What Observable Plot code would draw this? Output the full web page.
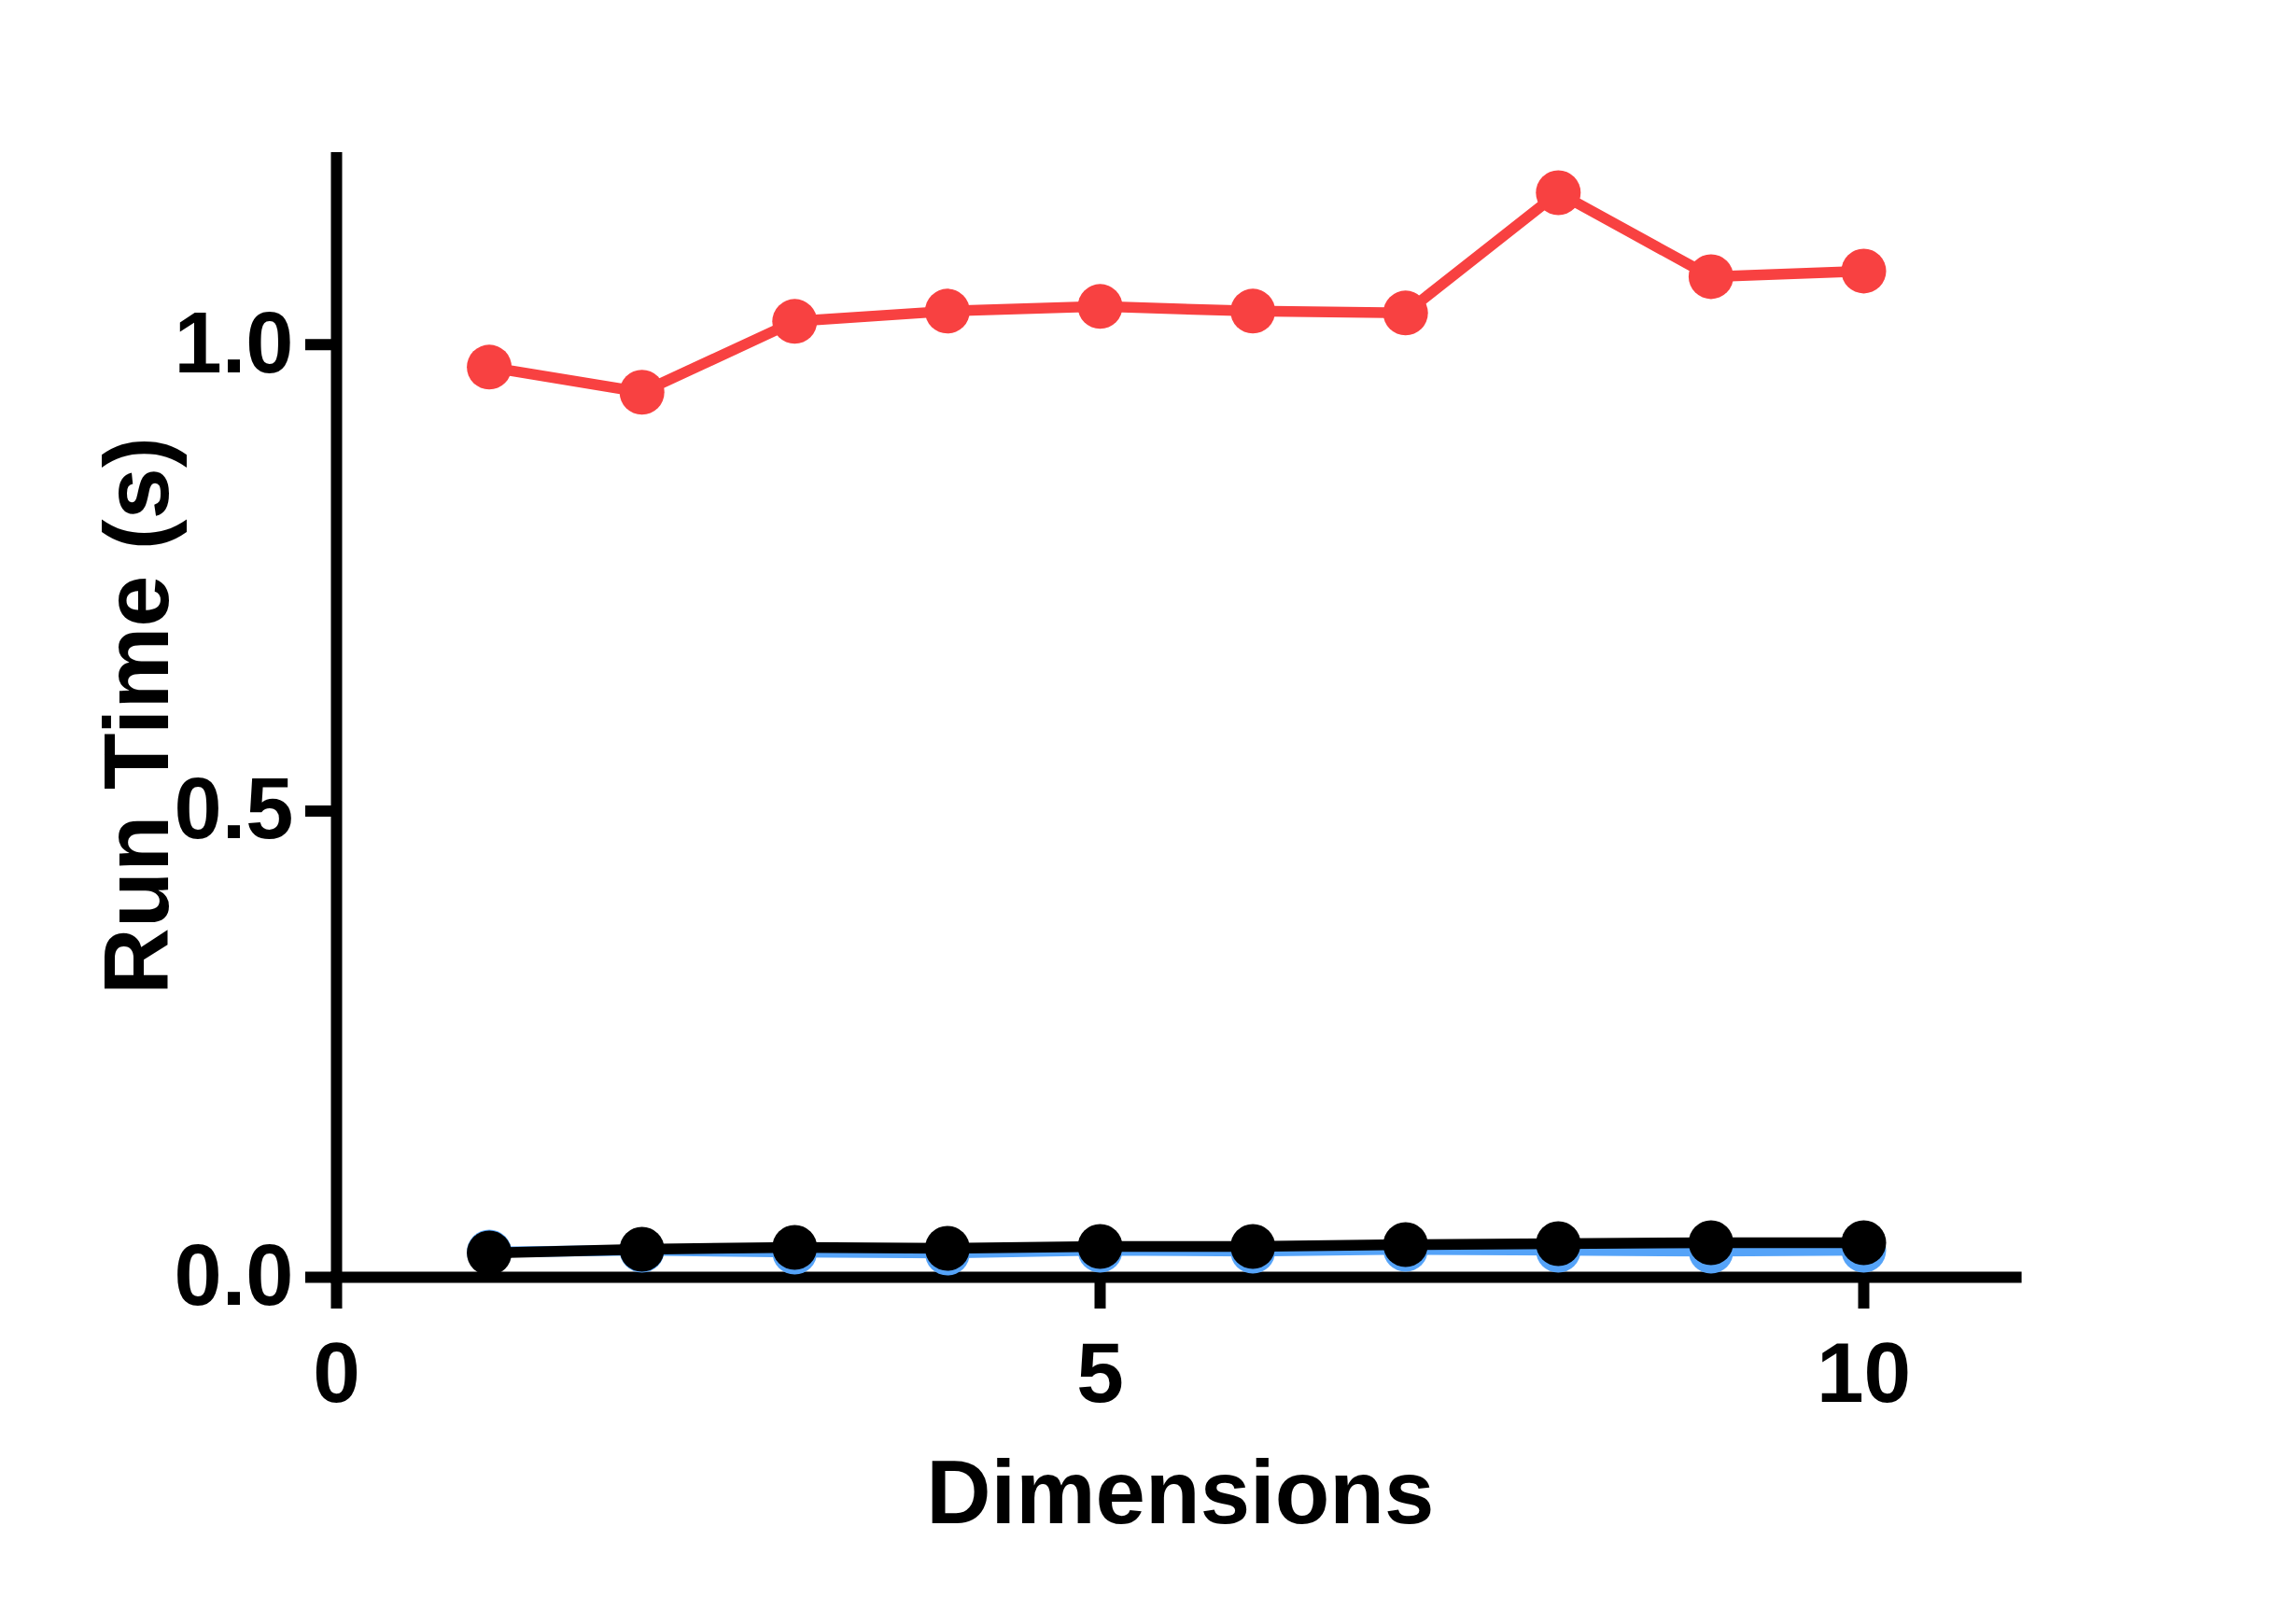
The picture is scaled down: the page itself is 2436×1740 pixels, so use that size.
<!DOCTYPE html>
<html>
<head>
<meta charset="utf-8">
<script src="https://cdn.jsdelivr.net/npm/d3@7"></script>
<script src="https://cdn.jsdelivr.net/npm/@observablehq/plot@0.6"></script>
<style>
  html, body { margin: 0; padding: 0; background: #fff; }
  svg text { font-family: "Liberation Sans", Arial, Helvetica, sans-serif; font-weight: bold; }
</style>
</head>
<body>
<div id="chart"></div>
<script>
// ---- data ----
const dimensions = [1, 2, 3, 4, 5, 6, 7, 8, 9, 10];
const redSeries   = [0.976, 0.949, 1.025, 1.036, 1.041, 1.036, 1.034, 1.163, 1.073, 1.079];
const blueSeries  = [0.027, 0.029, 0.027, 0.026, 0.029, 0.028, 0.030, 0.029, 0.028, 0.029];
const blackSeries = [0.026, 0.030, 0.032, 0.031, 0.033, 0.033, 0.035, 0.036, 0.037, 0.037];
const xTicks = [0, 5, 10];
const yTicks = [0, 0.5, 1.0];
const xDomain = [0, 11];
const yDomain = [0, 1.2];
const xTitle = "Dimensions";
const yTitle = "Run Time (s)";

const colors = { red: "#F84141", blue: "#55A3F8", black: "#000000" };

const rows = (vals, name) => dimensions.map((d, i) => ({ dim: d, value: vals[i], series: name }));
const redRows = rows(redSeries, "red");
const blueRows = rows(blueSeries, "blue");
const blackRows = rows(blackSeries, "black");

const LW = 11.5, R = 24;

const chart = Plot.plot({
  width: 2436,
  height: 1740,
  marginLeft: 360,
  marginRight: 276.4,
  marginTop: 169,
  marginBottom: 372,
  style: { fontFamily: "Liberation Sans, Arial, sans-serif", fontWeight: "bold", background: "#fff" },
  x: { domain: xDomain },
  y: { domain: yDomain },
  marks: [
    // axis lines
    Plot.ruleY([0], { x1: xDomain[0], x2: xDomain[1], stroke: "#000", strokeWidth: 12, strokeLinecap: "square" }),
    Plot.ruleX([0], { y1: yDomain[0], y2: yDomain[1], stroke: "#000", strokeWidth: 12, strokeLinecap: "square" }),
    Plot.axisX({ ticks: xTicks, tickSize: 34, tickPadding: 35, strokeWidth: 12, fontSize: 91, fontWeight: "bold", label: null, tickFormat: d => String(d), stroke: "#000", fill: "#000" }),
    Plot.axisY({ ticks: yTicks, tickSize: 33, tickPadding: 13, strokeWidth: 12, fontSize: 92, fontWeight: "bold", label: null, tickFormat: d => d.toFixed(1), stroke: "#000", fill: "#000" }),
    // series
    Plot.line(redRows, { x: "dim", y: "value", stroke: colors.red, strokeWidth: LW }),
    Plot.dot(redRows, { x: "dim", y: "value", r: R, fill: colors.red }),
    Plot.line(blueRows, { x: "dim", y: "value", stroke: colors.blue, strokeWidth: LW }),
    Plot.dot(blueRows, { x: "dim", y: "value", r: R, fill: colors.blue }),
    Plot.line(blackRows, { x: "dim", y: "value", stroke: colors.black, strokeWidth: LW }),
    Plot.dot(blackRows, { x: "dim", y: "value", r: R, fill: colors.black }),
    // axis titles
    Plot.text([yTitle], { text: d => d, frameAnchor: "left", textAnchor: "middle", rotate: -90, dx: -181, dy: -2, lineAnchor: "bottom", fontSize: 99, fontWeight: "bold", fill: "#000" }),
    Plot.text([xTitle], { text: d => d, frameAnchor: "bottom", textAnchor: "middle", dx: 4, dy: 263, lineAnchor: "bottom", fontSize: 96, fontWeight: "bold", fill: "#000" })
  ]
});
document.getElementById("chart").appendChild(chart);
</script>
</body>
</html>
